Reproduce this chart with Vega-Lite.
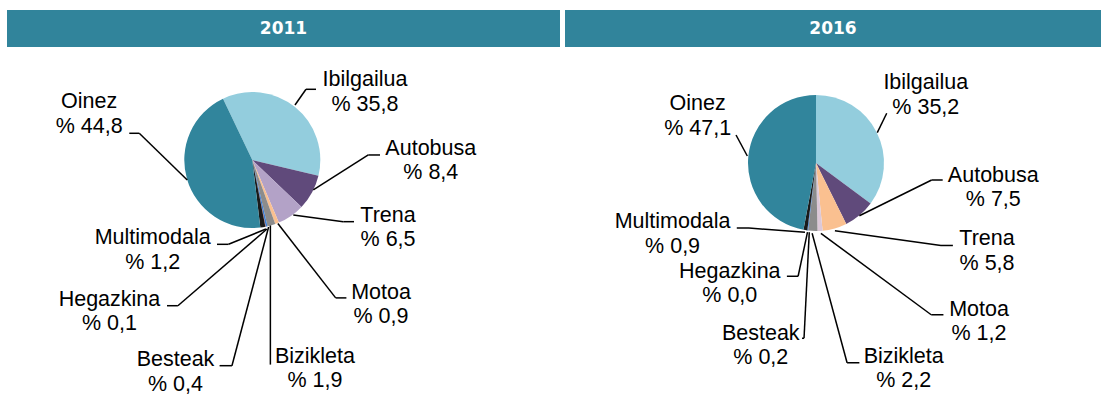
{
  "$schema": "https://vega.github.io/schema/vega-lite/v6.json",
  "background": "white",
  "padding": {"left": 7, "top": 10, "right": 8, "bottom": 0},
  "config": {
    "view": {"stroke": null},
    "locale": {"number": {"decimal": ",", "thousands": ".", "grouping": [3], "currency": ["% ", ""]}}
  },
  "datasets": {
    "d2011": [
      {"category": "Ibilgailua", "value": 35.8, "rank": 1, "lx": 165.7, "ly": 108.8, "ex": 62.8, "ey": 80.9, "kx": 79, "ky": 104, "hx": 93.7, "hy": 104},
      {"category": "Autobusa", "value": 8.4, "rank": 2, "lx": 262.5, "ly": 7.4, "ex": 89.7, "ey": -44.1, "kx": 170.6, "ky": 7.4, "hx": 187.8, "hy": 7.4},
      {"category": "Trena", "value": 6.5, "rank": 3, "lx": 199.6, "ly": -90.7, "ex": 60.3, "ey": -80.9, "kx": 133.8, "ky": -90.7, "hx": 149.6, "hy": -90.7},
      {"category": "Motoa", "value": 0.9, "rank": 4, "lx": 189.3, "ly": -203.8, "ex": 37.6, "ey": -93.5, "kx": 122.6, "ky": -202.8, "hx": 138.4, "hy": -202.8},
      {"category": "Bizikleta", "value": 1.9, "rank": 5, "lx": 92.2, "ly": -298.4, "ex": 26.6, "ey": -96.2, "kx": 26.6, "ky": -300.9, "hx": 26.6, "hy": -300.9},
      {"category": "Besteak", "value": 0.4, "rank": 6, "lx": -112.9, "ly": -303.5, "ex": 24, "ey": -98.5, "kx": -29.9, "ky": -302.5, "hx": -48.1, "hy": -302.5},
      {"category": "Hegazkina", "value": 0.1, "rank": 7, "lx": -210, "ly": -214.3, "ex": 21.6, "ey": -101.5, "kx": -109.4, "ky": -214.3, "hx": -125.4, "hy": -214.3},
      {"category": "Multimodala", "value": 1.2, "rank": 8, "lx": -146.5, "ly": -124, "ex": 20.1, "ey": -101.5, "kx": -34.9, "ky": -124, "hx": -51.9, "hy": -124},
      {"category": "Oinez", "value": 44.8, "rank": 9, "lx": -239.9, "ly": 76, "ex": -95.6, "ey": -29.4, "kx": -166.2, "ky": 39.3, "hx": -180.9, "hy": 39.3}
    ],
    "d2016": [
      {"category": "Ibilgailua", "value": 35.2, "rank": 1, "lx": 161.5, "ly": 108.4, "ex": 90.1, "ey": 44.6, "kx": 104, "ky": 73.1, "hx": 104, "hy": 73.1},
      {"category": "Autobusa", "value": 7.5, "rank": 2, "lx": 260.7, "ly": -27.5, "ex": 63.8, "ey": -77.6, "kx": 170.1, "ky": -25, "hx": 186.3, "hy": -25},
      {"category": "Trena", "value": 5.8, "rank": 3, "lx": 251.5, "ly": -121.3, "ex": 27.8, "ey": -99.7, "kx": 183.8, "ky": -121.3, "hx": 201.3, "hy": -121.3},
      {"category": "Motoa", "value": 1.2, "rank": 4, "lx": 239.7, "ly": -224.3, "ex": 7.2, "ey": -103.4, "kx": 169.4, "ky": -223.2, "hx": 187.4, "hy": -223.2},
      {"category": "Bizikleta", "value": 2.2, "rank": 5, "lx": 129, "ly": -293.8, "ex": -5.7, "ey": -103.4, "kx": 45.7, "ky": -293.8, "hx": 63.8, "hy": -293.8},
      {"category": "Besteak", "value": 0.2, "rank": 6, "lx": -81.2, "ly": -260.3, "ex": -9.9, "ey": -101.8, "kx": -17.6, "ky": -257.8, "hx": -20.6, "hy": -257.8},
      {"category": "Hegazkina", "value": 0.0, "rank": 7, "lx": -126.8, "ly": -168.7, "ex": -12.5, "ey": -101.8, "kx": -26.3, "ky": -166.6, "hx": -42.8, "hy": -166.6},
      {"category": "Multimodala", "value": 0.9, "rank": 8, "lx": -210.9, "ly": -95.6, "ex": -16.2, "ey": -101.8, "kx": -98.5, "ky": -95.6, "hx": -116.5, "hy": -95.6},
      {"category": "Oinez", "value": 47.1, "rank": 9, "lx": -174, "ly": 77.9, "ex": -101, "ey": 10.3, "kx": -117.6, "ky": 41.2, "hx": -117.6, "hy": 41.2}
    ]
  },
  "resolve": {"scale": {"x": "independent", "y": "independent", "color": "independent", "theta": "independent"}},
  "spacing": 5,
  "hconcat": [
    {
      "spacing": 0,
      "resolve": {"scale": {"x": "independent", "y": "independent", "color": "independent", "theta": "independent"}},
      "vconcat": [
        {
          "width": 553, "height": 37,
          "view": {"fill": "#31849B", "stroke": null},
          "data": {"values": [{"year": "2011"}]},
          "mark": {"type": "text", "color": "white", "font": "DejaVu Sans", "fontWeight": "bold", "fontSize": 17, "baseline": "middle", "align": "center"},
          "encoding": {"text": {"field": "year"}}
        },
        {
          "width": 553, "height": 362,
          "data": {"name": "d2011"},
          "layer": [
            {
              "mark": {"type": "arc", "outerRadius": 68},
              "encoding": {
                "x": {"datum": 0, "type": "quantitative", "scale": {"domain": [-360.7, 452.5], "nice": false, "zero": false}, "axis": null},
                "y": {"datum": 0, "type": "quantitative", "scale": {"domain": [-366.2, 166.2], "nice": false, "zero": false}, "axis": null},
                "theta": {"field": "value", "type": "quantitative", "stack": true, "scale": {"range": [-0.445, 5.838]}},
                "order": {"field": "rank", "type": "quantitative"},
                "color": {"field": "category", "type": "nominal", "legend": null,
                  "scale": {"domain": ["Ibilgailua", "Autobusa", "Trena", "Motoa", "Bizikleta", "Besteak", "Hegazkina", "Multimodala", "Oinez"],
                            "range": ["#93CDDD", "#604A7B", "#B3A2C7", "#FAC090", "#8C8C8C", "#3A7FD5", "#C0504D", "#1A1A1A", "#31859C"]}}
              }
            },
            {
              "mark": {"type": "rule", "color": "black", "strokeWidth": 1.5},
              "encoding": {
                "x": {"field": "ex", "type": "quantitative", "scale": {"domain": [-360.7, 452.5], "nice": false, "zero": false}, "axis": null},
                "y": {"field": "ey", "type": "quantitative", "scale": {"domain": [-366.2, 166.2], "nice": false, "zero": false}, "axis": null},
                "x2": {"field": "kx"}, "y2": {"field": "ky"}
              }
            },
            {
              "mark": {"type": "rule", "color": "black", "strokeWidth": 1.5},
              "encoding": {
                "x": {"field": "kx", "type": "quantitative", "scale": {"domain": [-360.7, 452.5], "nice": false, "zero": false}, "axis": null},
                "y": {"field": "ky", "type": "quantitative", "scale": {"domain": [-366.2, 166.2], "nice": false, "zero": false}, "axis": null},
                "x2": {"field": "hx"}, "y2": {"field": "hy"}
              }
            },
            {
              "mark": {"type": "text", "font": "Liberation Sans", "fontSize": 21.5, "color": "black", "align": "center", "baseline": "alphabetic"},
              "encoding": {
                "x": {"field": "lx", "type": "quantitative", "scale": {"domain": [-360.7, 452.5], "nice": false, "zero": false}, "axis": null},
                "y": {"field": "ly", "type": "quantitative", "scale": {"domain": [-366.2, 166.2], "nice": false, "zero": false}, "axis": null},
                "text": {"field": "category"}
              }
            },
            {
              "mark": {"type": "text", "font": "Liberation Sans", "fontSize": 21.5, "color": "black", "align": "center", "baseline": "alphabetic", "dy": 24.5},
              "encoding": {
                "x": {"field": "lx", "type": "quantitative", "scale": {"domain": [-360.7, 452.5], "nice": false, "zero": false}, "axis": null},
                "y": {"field": "ly", "type": "quantitative", "scale": {"domain": [-366.2, 166.2], "nice": false, "zero": false}, "axis": null},
                "text": {"field": "value", "type": "quantitative", "format": "$.1f"}
              }
            }
          ]
        }
      ]
    },
    {
      "spacing": 0,
      "resolve": {"scale": {"x": "independent", "y": "independent", "color": "independent", "theta": "independent"}},
      "vconcat": [
        {
          "width": 536, "height": 37,
          "view": {"fill": "#31849B", "stroke": null},
          "data": {"values": [{"year": "2016"}]},
          "mark": {"type": "text", "color": "white", "font": "DejaVu Sans", "fontWeight": "bold", "fontSize": 17, "baseline": "middle", "align": "center"},
          "encoding": {"text": {"field": "year"}}
        },
        {
          "width": 536, "height": 362,
          "data": {"name": "d2016"},
          "layer": [
            {
              "mark": {"type": "arc", "outerRadius": 68},
              "encoding": {
                "x": {"datum": 0, "type": "quantitative", "scale": {"domain": [-369.1, 419.1], "nice": false, "zero": false}, "axis": null},
                "y": {"datum": 0, "type": "quantitative", "scale": {"domain": [-361.8, 170.6], "nice": false, "zero": false}, "axis": null},
                "theta": {"field": "value", "type": "quantitative", "stack": true, "scale": {"range": [0, 6.2832]}},
                "order": {"field": "rank", "type": "quantitative"},
                "color": {"field": "category", "type": "nominal", "legend": null,
                  "scale": {"domain": ["Ibilgailua", "Autobusa", "Trena", "Motoa", "Bizikleta", "Besteak", "Hegazkina", "Multimodala", "Oinez"],
                            "range": ["#93CDDD", "#604A7B", "#FAC090", "#DCC8D8", "#8C8C8C", "#3A7FD5", "#C0504D", "#1A1A1A", "#31859C"]}}
              }
            },
            {
              "mark": {"type": "rule", "color": "black", "strokeWidth": 1.5},
              "encoding": {
                "x": {"field": "ex", "type": "quantitative", "scale": {"domain": [-369.1, 419.1], "nice": false, "zero": false}, "axis": null},
                "y": {"field": "ey", "type": "quantitative", "scale": {"domain": [-361.8, 170.6], "nice": false, "zero": false}, "axis": null},
                "x2": {"field": "kx"}, "y2": {"field": "ky"}
              }
            },
            {
              "mark": {"type": "rule", "color": "black", "strokeWidth": 1.5},
              "encoding": {
                "x": {"field": "kx", "type": "quantitative", "scale": {"domain": [-369.1, 419.1], "nice": false, "zero": false}, "axis": null},
                "y": {"field": "ky", "type": "quantitative", "scale": {"domain": [-361.8, 170.6], "nice": false, "zero": false}, "axis": null},
                "x2": {"field": "hx"}, "y2": {"field": "hy"}
              }
            },
            {
              "mark": {"type": "text", "font": "Liberation Sans", "fontSize": 21.5, "color": "black", "align": "center", "baseline": "alphabetic"},
              "encoding": {
                "x": {"field": "lx", "type": "quantitative", "scale": {"domain": [-369.1, 419.1], "nice": false, "zero": false}, "axis": null},
                "y": {"field": "ly", "type": "quantitative", "scale": {"domain": [-361.8, 170.6], "nice": false, "zero": false}, "axis": null},
                "text": {"field": "category"}
              }
            },
            {
              "mark": {"type": "text", "font": "Liberation Sans", "fontSize": 21.5, "color": "black", "align": "center", "baseline": "alphabetic", "dy": 24.5},
              "encoding": {
                "x": {"field": "lx", "type": "quantitative", "scale": {"domain": [-369.1, 419.1], "nice": false, "zero": false}, "axis": null},
                "y": {"field": "ly", "type": "quantitative", "scale": {"domain": [-361.8, 170.6], "nice": false, "zero": false}, "axis": null},
                "text": {"field": "value", "type": "quantitative", "format": "$.1f"}
              }
            }
          ]
        }
      ]
    }
  ]
}
